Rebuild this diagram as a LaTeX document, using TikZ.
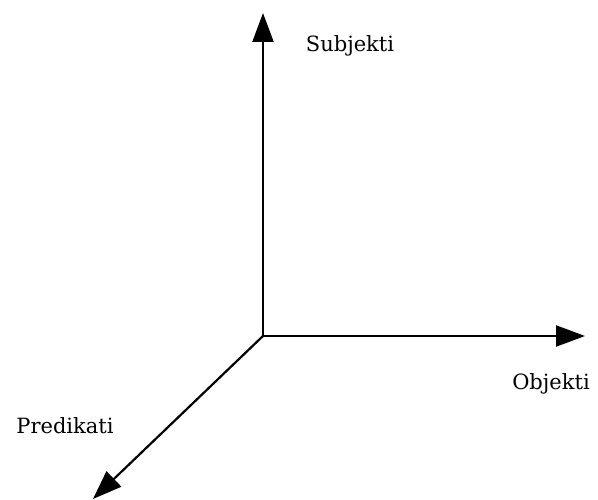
\documentclass[tikz,border=0pt]{standalone}
\usepackage{fontspec}
\setmainfont{DejaVu Serif}
\usetikzlibrary{arrows.meta}
\begin{document}
\begin{tikzpicture}[x=1pt,y=-1pt,
  axis/.style={line width=2.2pt,-{Triangle[length=29pt,width=21pt]}},
  lbl/.style={font=\fontsize{21}{24}\selectfont}]
\useasboundingbox (0,0) rectangle (598,500);
\coordinate (o) at (263,336);
\coordinate (s) at (263,13);
\coordinate (b) at (585,336);
\coordinate (p) at (93,499);
\draw[axis] (o) -- (s);
\draw[axis] (o) -- (b);
\draw[axis] (o) -- (p);
\node[lbl] (sl) at (350,46) {Subjekti};
\node[lbl] (ol) at (551,384) {Objekti};
\node[lbl] (pl) at (65,426) {Predikati};
\end{tikzpicture}
\end{document}
